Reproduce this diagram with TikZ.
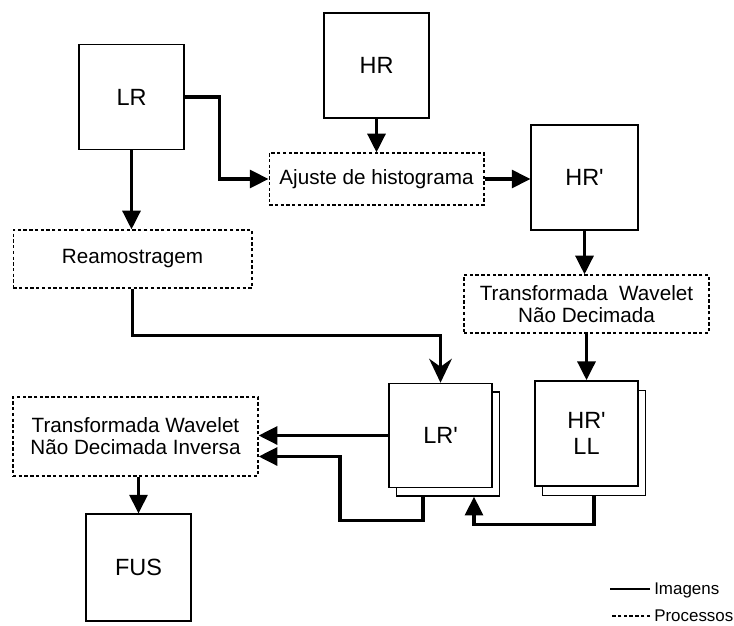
\documentclass[tikz,border=0pt]{standalone}
\usepackage{fontspec}
\newfontfamily\figfont{Liberation Sans}
\usetikzlibrary{arrows.meta,calc}
\begin{document}
\begin{tikzpicture}[x=0.75pt,y=-0.75pt,
    imgbox/.style={draw,line width=1.1pt,fill=white,inner sep=0pt,
      minimum width=78.5pt,minimum height=79pt,align=center,
      font=\figfont\fontsize{17.6}{20}\selectfont},
    procbox/.style={draw,line width=1pt,dash pattern=on 2.5pt off 1.8pt,
      inner sep=0pt,align=center,font=\figfont\fontsize{15.5}{16.5}\selectfont},
    conn/.style={line width=2.3pt,-{Triangle[length=14pt,width=13.5pt]}},
    legtext/.style={anchor=base west,inner sep=0pt,font=\figfont\fontsize{12.7}{14}\selectfont}]
  \useasboundingbox (0,0) rectangle (734,625);
  % imagens e processos
  \node[imgbox] (lr) at (131.5,97) {LR};
  \node[imgbox] (hr) at (376.5,65.5) {HR};
  \node[procbox,minimum width=161pt,minimum height=39pt] (ajuste) at (376.5,179) {Ajuste de histograma};
  \node[imgbox,minimum width=80pt] (hrp) at (584.5,177.5) {HR'};
  \node[procbox,minimum width=179pt,minimum height=43.5pt] (ream) at (132.5,259) {Reamostragem};
  \node[procbox,minimum width=183.75pt,minimum height=43.5pt] (twnd) at (586.5,304) {Transformada\ \ Wavelet\\Não Decimada};
  \node[imgbox,minimum width=77.5pt,minimum height=78pt] (lrpb) at (448,444) {};
  \node[imgbox,minimum width=77.5pt,minimum height=78pt] (lrp) at (440.5,435.5) {LR'};
  \node[imgbox,minimum width=77.5pt,minimum height=79pt] (hrllb) at (594,443) {};
  \node[imgbox,minimum width=77.5pt,minimum height=79pt] (hrll) at (586.5,433.5) {HR'\\LL};
  \node[procbox,minimum width=183.75pt,minimum height=59.25pt] (twndi) at (135.5,436.5) {Transformada Wavelet\\Não Decimada Inversa};
  \node[imgbox,minimum height=80pt] (fus) at (138.5,567.5) {FUS};
  % ligacoes
  \begin{scope}[conn]
    \draw (lr.east) -- ++(35,0) |- (ajuste.west);
    \draw (lr.south) -- (lr.south |- ream.north);
    \draw (hr.south) -- (ajuste.north);
    \draw (ajuste.east) -- (ajuste.east -| hrp.west);
    \draw (hrp.south) -- (hrp.south |- twnd.north);
    \draw (twnd.south) -- (twnd.south |- hrll.north);
    \draw[-{Stealth[length=18pt,width=17pt,inset=6pt]}] (ream.south) -- ++(0,47) -| (lrp.north);
    \draw (lrp.west) -- (lrp.west -| twndi.east);
    \draw ($(lrpb.south)+(-25,0)$) |- ++(-83,24) |- ($(twndi.east)+(0,20)$);
    \draw (hrllb.south) -- ++(0,28) -| ($(lrpb.south)+(26,0)$);
    \draw (twndi.south -| fus.north) -- (fus.north);
  \end{scope}
  % legenda
  \node[legtext] (imagens) at (654,594) {Imagens};
  \node[legtext] (processos) at (654,621) {Processos};
  \draw[line width=0.8pt] ($(imagens.base west)+(-4,-5)$) -- ++(-40,0);
  \draw[line width=0.8pt,dash pattern=on 2.5pt off 1.8pt] ($(processos.base west)+(-4,-5)$) -- ++(-40,0);
\end{tikzpicture}
\end{document}
